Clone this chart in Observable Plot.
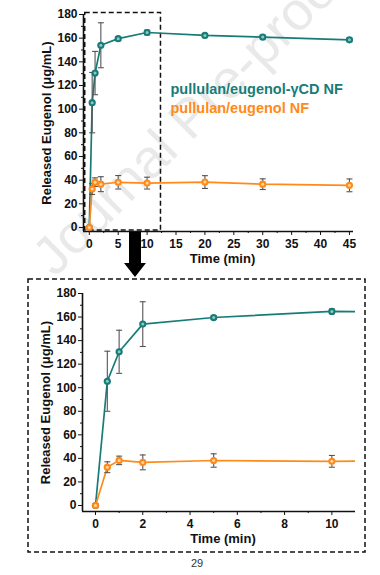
<!DOCTYPE html>
<html><head><meta charset="utf-8">
<script src="https://cdn.jsdelivr.net/npm/d3@7"></script>
<script src="https://cdn.jsdelivr.net/npm/@observablehq/plot@0.6"></script>
<style>
body{margin:0;background:#fff;}
#page{position:relative;width:380px;height:575px;overflow:hidden;font-family:"Liberation Sans",Arial,sans-serif;}
#page > svg, #page > div{position:absolute;left:0;}
</style></head><body><div id="page"></div>
<script>
// ---- data ----
const times = [0, 0.5, 1, 2, 5, 10, 20, 30, 45];
const seriesNames = ["pullulan/eugenol-γCD NF", "pullulan/eugenol NF"];
const gcdMean = [0, 105.5, 130.5, 154, 159.6, 164.8, 162.3, 160.9, 158.6];
const gcdErr  = [0, 25.5, 18.3, 19, 1.5, 2, 1.5, 1.5, 1.5];
const eugMean = [0, 32.5, 38.3, 36.6, 38.2, 37.5, 38.4, 36.6, 35.6];
const eugErr  = [0, 4.6, 3.6, 6.3, 5.7, 5, 5.4, 4.5, 5.4];
const yMajor = [0, 20, 40, 60, 80, 100, 120, 140, 160, 180];
const yMinor = [10, 30, 50, 70, 90, 110, 130, 150, 170];
const xMajorTop = [0, 5, 10, 15, 20, 25, 30, 35, 40, 45];
const xMinorTop = [2.5, 7.5, 12.5, 17.5, 22.5, 27.5, 32.5, 37.5, 42.5];
const xMajorBot = [0, 2, 4, 6, 8, 10];
const xMinorBot = [1, 3, 5, 7, 9];
const yTitle = "Released Eugenol (μg/mL)";
const xTitle = "Time (min)";
const colors = ["#177c78", "#ff8a1a"];
const lightColors = ["#8cc9c4", "#ffd8a6"];

const rows = [];
[gcdMean, eugMean].forEach((arr, s) => {
  const errs = s === 0 ? gcdErr : eugErr;
  times.forEach((t, i) => rows.push({series: seriesNames[s], t, v: arr[i], e: errs[i]}));
});
const errRows = rows.filter(d => d.e > 0);

const capSymbol = {draw(ctx, size){ const w = Math.sqrt(size / Math.PI); ctx.moveTo(-w, 0); ctx.lineTo(w, 0); }};

function chart({width, height, mt, mr, mb, ml, xDomain, yDomain, xMajor, xMinor, extra, clip}) {
  const marks = [];
  (extra.before || []).forEach(m => marks.push(m));
  marks.push(
    Plot.ruleX([xDomain[0]], {stroke: "#111", strokeWidth: 1.6}),
    Plot.ruleY([yDomain[0]], {stroke: "#111", strokeWidth: 1.6}),
    Plot.axisY(yMajor, {tickSize: 4, tickPadding: 2, label: null, fontSize: 12, fontWeight: "bold", stroke: "#111"}),
    Plot.axisY(yMinor, {tickSize: 2, tickFormat: () => "", label: null, stroke: "#111"}),
    Plot.axisX(xMajor, {tickSize: 4, tickPadding: 4, label: null, fontSize: 12, fontWeight: "bold", stroke: "#111"}),
    Plot.axisX(xMinor, {tickSize: 2, tickFormat: () => "", label: null, stroke: "#111"}),
    Plot.text([yTitle], {frameAnchor: "left", textAnchor: "middle", lineAnchor: "middle", rotate: -90, dx: -37, fontSize: 13, fontWeight: "bold", fill: "#111"}),
    Plot.text([xTitle], {frameAnchor: "bottom", textAnchor: "middle", lineAnchor: "middle", dy: 27, dx: 4, fontSize: 13, fontWeight: "bold", fill: "#111"})
  );
  seriesNames.forEach((name, s) => {
    const d = rows.filter(r => r.series === name);
    const de = errRows.filter(r => r.series === name);
    marks.push(
      Plot.line(d, {x: "t", y: "v", stroke: colors[s], strokeWidth: 1.7, clip}),
      Plot.ruleX(de, {x: "t", y1: r => r.v - r.e, y2: r => r.v + r.e, stroke: "#555", strokeWidth: 1.1, clip}),
      Plot.dot(de, {x: "t", y: r => r.v - r.e, symbol: capSymbol, r: 3, stroke: "#555", strokeWidth: 1.1, fill: "none", clip}),
      Plot.dot(de, {x: "t", y: r => r.v + r.e, symbol: capSymbol, r: 3, stroke: "#555", strokeWidth: 1.1, fill: "none", clip}),
      Plot.dot(d, {x: "t", y: "v", r: 3.6, fill: colors[s], stroke: "none", clip}),
      Plot.dot(d, {x: "t", y: "v", r: 1.5, fill: lightColors[s], stroke: "none", clip})
    );
  });
  (extra.after || []).forEach(m => marks.push(m));
  return Plot.plot({
    width, height, marginTop: mt, marginRight: mr, marginBottom: mb, marginLeft: ml,
    x: {domain: xDomain, axis: null},
    y: {domain: yDomain, axis: null},
    style: {background: "transparent", fontFamily: "'Liberation Sans', Arial, sans-serif", color: "#111", overflow: "visible"},
    marks
  });
}

const page = document.getElementById("page");

// background watermark
const NS = "http://www.w3.org/2000/svg";
const bgSvg = document.createElementNS(NS, "svg");
bgSvg.setAttribute("width", 380); bgSvg.setAttribute("height", 575); bgSvg.style.top = "0px";
bgSvg.innerHTML = `<text transform="translate(55,278) rotate(-45)" font-size="54" fill="#e9e9e9" font-family="'Liberation Sans', Arial, sans-serif">Journal Pre-proof</text>`;
page.appendChild(bgSvg);

const topChart = chart({
  width: 380, height: 270, mt: 14, mr: 27, mb: 39, ml: 83,
  xDomain: [-1.0, 45.7], yDomain: [-3.4, 180],
  xMajor: xMajorTop, xMinor: xMinorTop, clip: false,
  extra: {
    before: [
      Plot.rect([0], {x1: -0.7, x2: 12.4, y1: -2.6, y2: 181.2, fill: "none", stroke: "#111", strokeWidth: 1.5, strokeDasharray: "5,3"})
    ],
    after: [
      Plot.text([seriesNames[0]], {frameAnchor: "top-left", lineAnchor: "middle", dx: 87, dy: 75, textAnchor: "start", fontSize: 14.5, fontWeight: "bold", fill: colors[0]}),
      Plot.text([seriesNames[1]], {frameAnchor: "top-left", lineAnchor: "middle", dx: 87, dy: 94, textAnchor: "start", fontSize: 14.5, fontWeight: "bold", fill: colors[1]})
    ]
  }
});
topChart.style.top = "0px";
page.appendChild(topChart);

const botChart = chart({
  width: 380, height: 275, mt: 23, mr: 25, mb: 34, ml: 82,
  xDomain: [-0.55, 11], yDomain: [-5.1, 180],
  xMajor: xMajorBot, xMinor: xMinorBot, clip: true,
  extra: {}
});
botChart.style.top = "270px";
page.appendChild(botChart);

// foreground: zoom box, arrow, page number
const fgSvg = document.createElementNS(NS, "svg");
fgSvg.setAttribute("width", 380); fgSvg.setAttribute("height", 575); fgSvg.style.top = "0px"; fgSvg.style.pointerEvents = "none";
fgSvg.innerHTML = `
<rect x="28" y="279" width="337" height="273" fill="none" stroke="#111" stroke-width="1.5" stroke-dasharray="5,3"/>
<rect x="129" y="232" width="12" height="33" fill="#000"/>
<polygon points="124,263 146,263 135,277" fill="#000"/>
<text x="197" y="567" font-size="11" text-anchor="middle" fill="#333" font-family="'Liberation Sans', Arial, sans-serif">29</text>`;
page.appendChild(fgSvg);
</script></body></html>
